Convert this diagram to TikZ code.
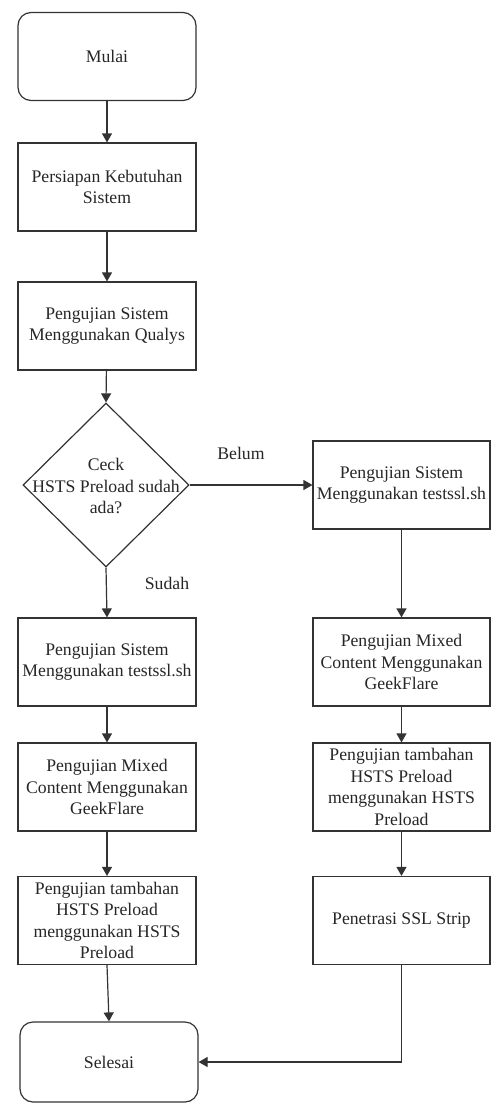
\documentclass[tikz,border=0pt]{standalone}
\usepackage{fontspec}
\setmainfont{Liberation Serif}
\usetikzlibrary{arrows.meta,shapes.geometric}
\begin{document}
\begin{tikzpicture}[x=1pt,y=-1pt,
  txt/.style={font=\fontsize{17.7}{21.5}\selectfont,text=black!85},
  box/.style={draw=black!80,line width=1.2pt,minimum width=178pt,minimum height=88pt,align=center,inner sep=0pt,txt},
  term/.style={box,rounded corners=13pt},
  dec/.style={draw=black!80,diamond,line width=1.2pt,minimum width=166pt,minimum height=164pt,inner sep=0pt},
  arr/.style={draw=black!80,line width=1.2pt,-{Triangle[width=10pt,length=9pt]}},
  lbl/.style={txt}]
\useasboundingbox (0,0) rectangle (492,1106);
\node[term] (start) at (107,56.5) {Mulai};
\node[box] (prep) at (107,187) {Persiapan Kebutuhan\\Sistem};
\node[box] (qualys) at (107,326) {Pengujian Sistem\\Menggunakan Qualys};
\node[dec] (dec) at (106,485) {};
\node[txt,align=center] (dectext) at (106,486) {Ceck\\HSTS Preload sudah\\ada?};
\node[box] (l1) at (107,662) {Pengujian Sistem\\Menggunakan testssl.sh};
\node[box] (l2) at (107,787) {Pengujian Mixed\\Content Menggunakan\\GeekFlare};
\node[box] (l3) at (107,920.5) {Pengujian tambahan\\HSTS Preload\\menggunakan HSTS\\Preload};
\node[term,minimum height=80pt] (end) at (109,1062) {Selesai};
\node[box,minimum width=177pt] (r1) at (401.5,485) {Pengujian Sistem\\Menggunakan testssl.sh};
\node[box,minimum width=177pt] (r2) at (401.5,662) {Pengujian Mixed\\Content Menggunakan\\GeekFlare};
\node[box,minimum width=177pt] (r3) at (401.5,787) {Pengujian tambahan\\HSTS Preload\\menggunakan HSTS\\Preload};
\node[box,minimum width=177pt] (r4) at (401.5,920.5) {Penetrasi SSL Strip};
\node[lbl] (belum) at (241,453) {Belum};
\node[lbl] (sudah) at (167,583) {Sudah};
\draw[arr] (start) -- (prep);
\draw[arr] (prep) -- (qualys);
\draw[arr] (qualys) -- (dec.north);
\draw[arr] (dec.east) -- (r1.west);
\draw[arr] (dec.south) -- (l1.north);
\draw[arr] (l1) -- (l2);
\draw[arr] (l2) -- (l3);
\draw[arr] (l3.south) -- (end.north);
\draw[arr] (r1) -- (r2);
\draw[arr] (r2) -- (r3);
\draw[arr] (r3) -- (r4);
\draw[arr] (r4.south) |- (end.east);
\end{tikzpicture}
\end{document}
